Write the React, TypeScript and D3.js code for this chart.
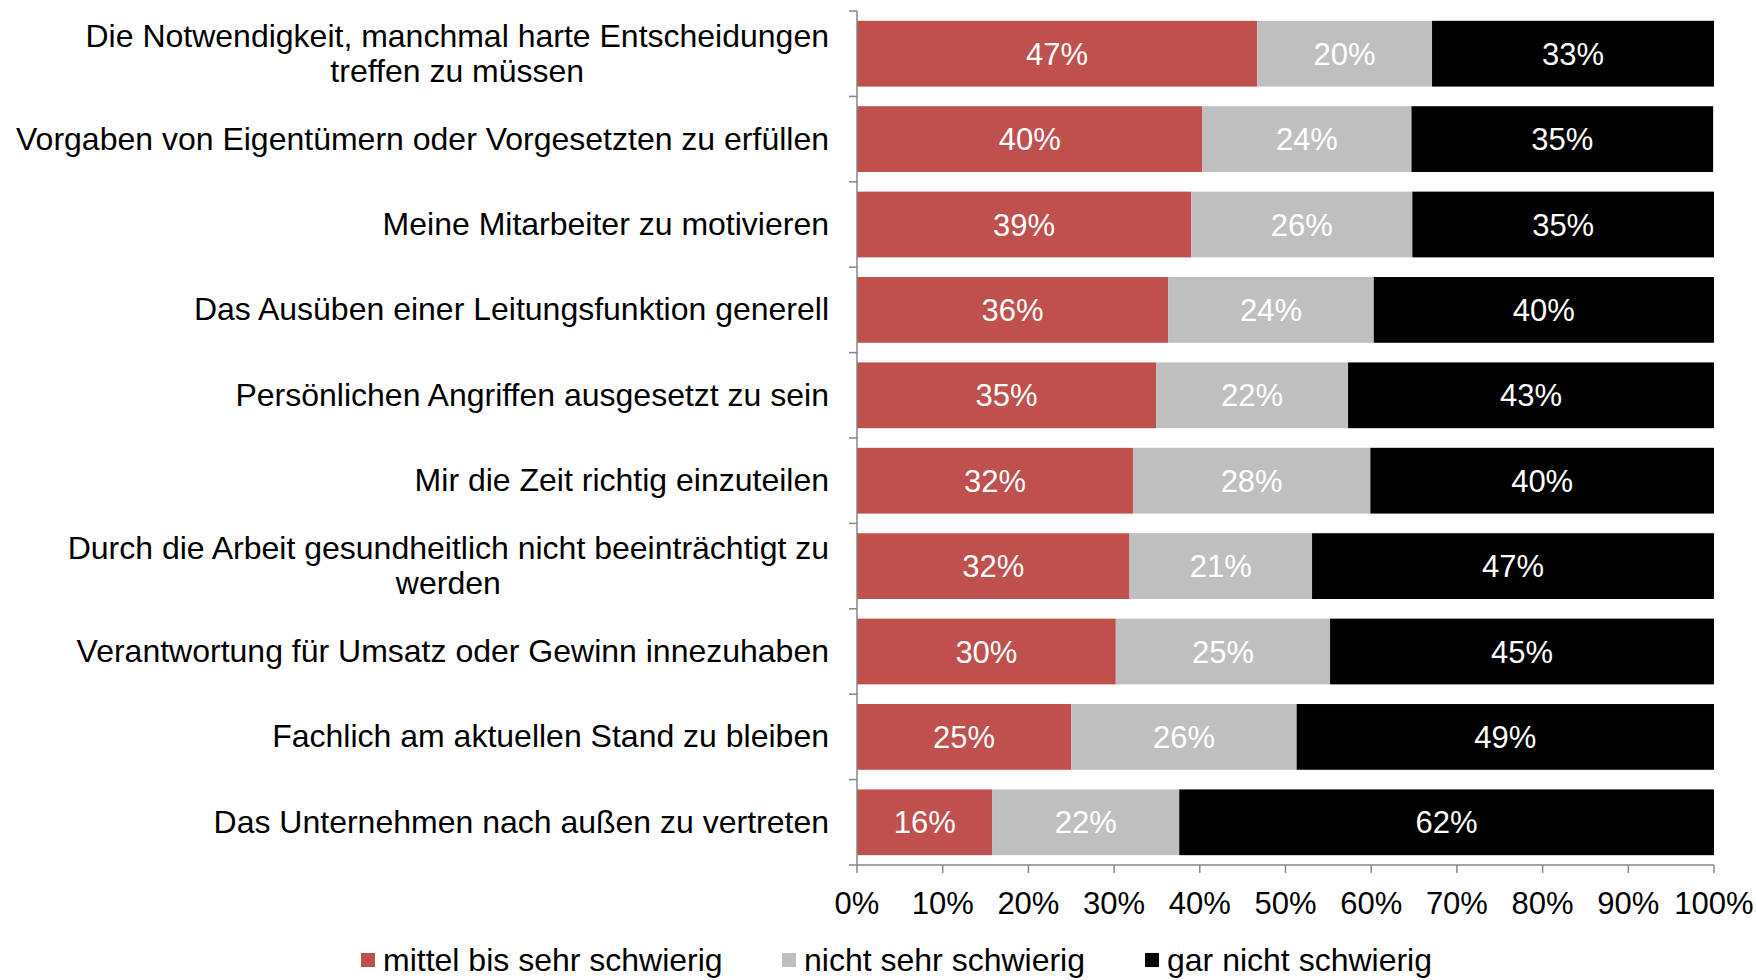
import React, { useEffect, useRef } from "react";
import * as d3 from "d3";

const categories: string[][] = [
  ["Die Notwendigkeit, manchmal harte Entscheidungen", "treffen zu müssen"],
  ["Vorgaben von Eigentümern oder Vorgesetzten zu erfüllen"],
  ["Meine Mitarbeiter zu motivieren"],
  ["Das Ausüben einer Leitungsfunktion generell"],
  ["Persönlichen Angriffen ausgesetzt zu sein"],
  ["Mir die Zeit richtig einzuteilen"],
  ["Durch die Arbeit gesundheitlich nicht beeinträchtigt zu", "werden"],
  ["Verantwortung für Umsatz oder Gewinn innezuhaben"],
  ["Fachlich am aktuellen Stand zu bleiben"],
  ["Das Unternehmen nach außen zu vertreten"],
];

const seriesNames = ["mittel bis sehr schwierig", "nicht sehr schwierig", "gar nicht schwierig"];
const mittel = [0.467, 0.403, 0.39, 0.363, 0.349, 0.322, 0.318, 0.302, 0.25, 0.158];
const nichtSehr = [0.204, 0.244, 0.258, 0.24, 0.224, 0.277, 0.213, 0.25, 0.263, 0.218];
const garNicht = [0.329, 0.352, 0.352, 0.397, 0.427, 0.401, 0.469, 0.448, 0.487, 0.624];
const xTicks = [0, 0.1, 0.2, 0.3, 0.4, 0.5, 0.6, 0.7, 0.8, 0.9, 1.0];
const colors = ["#C0504D", "#BFBFBF", "#000000"];

const W = 1756;
const H = 980;
const FONT = "'Liberation Sans', Arial, sans-serif";

export default function App() {
  const ref = useRef<SVGSVGElement | null>(null);

  useEffect(() => {
    document.body.style.margin = "0";
    const svg = d3.select(ref.current!);
    svg.selectAll("*").remove();

    const x = d3.scaleLinear().domain([0, 1]).range([857, 1714]);
    const ids = categories.map((_, i) => String(i));
    const y = d3.scaleBand<string>().domain(ids).range([11, 865]).paddingInner(0.23).paddingOuter(0.115);

    const rows = categories.map((c, i) => ({ id: String(i), mittel: mittel[i], nicht: nichtSehr[i], gar: garNicht[i] }));
    const stack = d3.stack<any>().keys(["mittel", "nicht", "gar"]);
    const layers = stack(rows);
    const fmt = d3.format(".0%");

    const g = svg.append("g");
    layers.forEach((layer, li) => {
      const lg = g.append("g");
      lg.selectAll("rect")
        .data(layer)
        .join("rect")
        .attr("x", (d) => x(d[0]))
        .attr("width", (d) => x(d[1]) - x(d[0]))
        .attr("y", (d) => y(d.data.id)!)
        .attr("height", y.bandwidth())
        .attr("fill", colors[li]);
      lg.selectAll("text")
        .data(layer)
        .join("text")
        .attr("x", (d) => (x(d[0]) + x(d[1])) / 2)
        .attr("y", (d) => y(d.data.id)! + y.bandwidth() / 2)
        .attr("dy", "0.36em")
        .attr("text-anchor", "middle")
        .attr("fill", "#ffffff")
        .attr("font-family", FONT)
        .attr("font-size", 31)
        .text((d) => fmt(d[1] - d[0]));
    });

    // axes
    const axisColor = "#868686";
    const step = y.step();
    const top = 11;
    const bottom = 865;
    svg.append("line").attr("x1", x(0)).attr("x2", x(0)).attr("y1", top).attr("y2", bottom).attr("stroke", axisColor).attr("stroke-width", 1.5);
    svg.append("line").attr("x1", x(0)).attr("x2", x(1)).attr("y1", bottom).attr("y2", bottom).attr("stroke", axisColor).attr("stroke-width", 1.5);
    for (let i = 0; i <= categories.length; i++) {
      const yy = top + i * step;
      svg.append("line").attr("x1", x(0) - 8).attr("x2", x(0)).attr("y1", yy).attr("y2", yy).attr("stroke", axisColor).attr("stroke-width", 1.5);
    }
    xTicks.forEach((t) => {
      svg.append("line").attr("x1", x(t)).attr("x2", x(t)).attr("y1", bottom).attr("y2", bottom + 8).attr("stroke", axisColor).attr("stroke-width", 1.5);
      svg.append("text")
        .attr("x", x(t))
        .attr("y", 914)
        .attr("text-anchor", "middle")
        .attr("font-family", FONT)
        .attr("font-size", 31)
        .attr("fill", "#000")
        .text(fmt(t));
    });

    // category labels
    const rightEdge = 829;
    const lineH = 35;
    categories.forEach((lines, i) => {
      const cy = y(String(i))! + y.bandwidth() / 2;
      const t = svg.append("text")
        .attr("font-family", FONT)
        .attr("font-size", 32)
        .attr("fill", "#000")
        .attr("text-anchor", "middle");
      const tspans = lines.map((ln, k) =>
        t.append("tspan").attr("y", cy + (k - (lines.length - 1) / 2) * lineH - 1).attr("dy", "0.36em").text(ln)
      );
      const widths = tspans.map((s) => (s.node() as SVGTSpanElement).getComputedTextLength());
      const maxW = Math.max(...widths);
      const cx = rightEdge - maxW / 2;
      tspans.forEach((s) => s.attr("x", cx));
    });

    // legend
    const legendX = [361, 782, 1145];
    seriesNames.forEach((name, i) => {
      svg.append("rect").attr("x", legendX[i]).attr("y", 953).attr("width", 14).attr("height", 14).attr("fill", colors[i]);
      svg.append("text")
        .attr("x", legendX[i] + 22)
        .attr("y", 971)
        .attr("font-family", FONT)
        .attr("font-size", 32)
        .attr("fill", "#000")
        .text(name);
    });
  }, []);

  return <svg ref={ref} width={W} height={H} style={{ display: "block", background: "#fff" }} />;
}
